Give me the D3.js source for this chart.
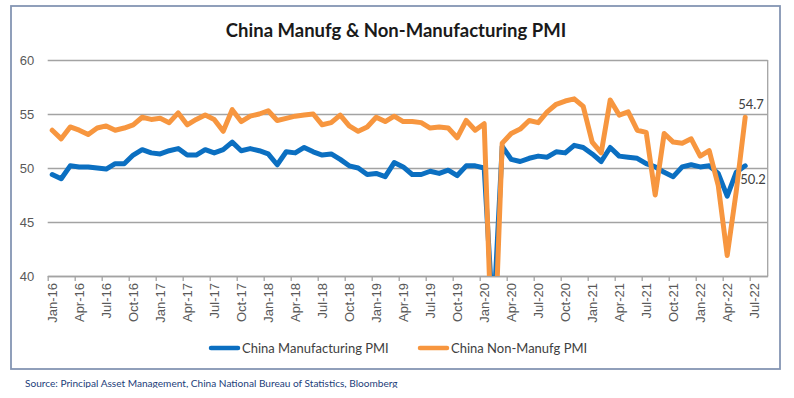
<!DOCTYPE html>
<html>
<head>
<meta charset="utf-8">
<script src="https://cdn.jsdelivr.net/npm/d3@7"></script>
<style>
  body { margin: 0; background: #fff; }
  svg { display: block; font-family: Lato, "Open Sans", sans-serif; }
  .axis text { fill: #595959; font-size: 13px; }
  .axis line, .axis path { stroke: #a3a3a3; stroke-width: 1.3; }
</style>
</head>
<body>
<svg id="chart" width="794" height="398"></svg>
<script>
// months shown on the chart (Jan-16 .. Jun-22)
var months = [
  "Jan-16","Feb-16","Mar-16","Apr-16","May-16","Jun-16","Jul-16","Aug-16","Sep-16","Oct-16","Nov-16","Dec-16",
  "Jan-17","Feb-17","Mar-17","Apr-17","May-17","Jun-17","Jul-17","Aug-17","Sep-17","Oct-17","Nov-17","Dec-17",
  "Jan-18","Feb-18","Mar-18","Apr-18","May-18","Jun-18","Jul-18","Aug-18","Sep-18","Oct-18","Nov-18","Dec-18",
  "Jan-19","Feb-19","Mar-19","Apr-19","May-19","Jun-19","Jul-19","Aug-19","Sep-19","Oct-19","Nov-19","Dec-19",
  "Jan-20","Feb-20","Mar-20","Apr-20","May-20","Jun-20","Jul-20","Aug-20","Sep-20","Oct-20","Nov-20","Dec-20",
  "Jan-21","Feb-21","Mar-21","Apr-21","May-21","Jun-21","Jul-21","Aug-21","Sep-21","Oct-21","Nov-21","Dec-21",
  "Jan-22","Feb-22","Mar-22","Apr-22","May-22","Jun-22"
];

var manufacturing = [
  49.4,49.0,50.2,50.1,50.1,50.0,49.9,50.4,50.4,51.2,51.7,51.4,
  51.3,51.6,51.8,51.2,51.2,51.7,51.4,51.7,52.4,51.6,51.8,51.6,
  51.3,50.3,51.5,51.4,51.9,51.5,51.2,51.3,50.8,50.2,50.0,49.4,
  49.5,49.2,50.5,50.1,49.4,49.4,49.7,49.5,49.8,49.3,50.2,50.2,
  50.0,35.7,52.0,50.8,50.6,50.9,51.1,51.0,51.5,51.4,52.1,51.9,
  51.3,50.6,51.9,51.1,51.0,50.9,50.4,50.1,49.6,49.2,50.1,50.3,
  50.1,50.2,49.5,47.4,49.6,50.2
];

var nonManufacturing = [
  53.5,52.7,53.8,53.5,53.1,53.7,53.9,53.5,53.7,54.0,54.7,54.5,
  54.6,54.2,55.1,54.0,54.5,54.9,54.5,53.4,55.4,54.3,54.8,55.0,
  55.3,54.4,54.6,54.8,54.9,55.0,54.0,54.2,54.9,53.9,53.4,53.8,
  54.7,54.3,54.8,54.3,54.3,54.2,53.7,53.8,53.7,52.8,54.4,53.5,
  54.1,29.6,52.3,53.2,53.6,54.4,54.2,55.2,55.9,56.2,56.4,55.7,
  52.4,51.4,56.3,54.9,55.2,53.5,53.3,47.5,53.2,52.4,52.3,52.7,
  51.1,51.6,48.4,41.9,47.8,54.7
];

var tickLabels = [
  "Jan-16","Apr-16","Jul-16","Oct-16","Jan-17","Apr-17","Jul-17","Oct-17","Jan-18","Apr-18",
  "Jul-18","Oct-18","Jan-19","Apr-19","Jul-19","Oct-19","Jan-20","Apr-20","Jul-20","Oct-20",
  "Jan-21","Apr-21","Jul-21","Oct-21","Jan-22","Apr-22","Jul-22"
];
var yTicks = [40, 45, 50, 55, 60];
var seriesNames = ["China Manufacturing PMI", "China Non-Manufg PMI"];
var title = "China Manufg & Non-Manufacturing PMI";
var source = "Source: Principal Asset Management, China National Bureau of Statistics, Bloomberg";

var blue = "#0b6fc1";
var orange = "#f7963f";

var plotL = 47.7, plotR = 767.7, plotT = 60, plotB = 276;
var nCats = 80; // axis runs to Aug-22

var svg = d3.select("#chart");

// outer frame
svg.append("rect")
  .attr("x", 11).attr("y", 6)
  .attr("width", 769).attr("height", 363)
  .attr("fill", "none")
  .attr("stroke", "#8495b3")
  .attr("stroke-width", 1.8);

svg.append("text")
  .attr("x", 396).attr("y", 37)
  .attr("text-anchor", "middle")
  .style("font-size", "18.5px")
  .style("font-weight", "bold")
  .style("fill", "#1a1a1a")
  .text(title);

var x = d3.scaleLinear().domain([0, nCats]).range([plotL, plotR]);
var y = d3.scaleLinear().domain([40, 60]).range([plotB, plotT]);

// gridlines + y labels
var yAxis = svg.append("g")
  .attr("class", "axis")
  .attr("transform", "translate(" + plotL + ",0)")
  .call(d3.axisLeft(y).tickValues(yTicks).tickSize(-(plotR - plotL)).tickPadding(13).tickFormat(d3.format("d")));
yAxis.select(".domain").remove();
yAxis.selectAll("text").attr("x", -13.5);

// right side vertical line
svg.append("line")
  .attr("x1", plotR).attr("x2", plotR)
  .attr("y1", plotT).attr("y2", plotB)
  .attr("stroke", "#a3a3a3").attr("stroke-width", 1.3);

// x axis
var xAxis = svg.append("g")
  .attr("class", "axis")
  .attr("transform", "translate(0," + plotB + ")")
  .call(d3.axisBottom(x)
    .tickValues(tickLabels.map(function(d, i) { return i * 3; }))
    .tickSize(5)
    .tickSizeOuter(0)
    .tickFormat(function(d, i) { return tickLabels[i]; }));

// labels sit in the middle of their month
xAxis.selectAll("text")
  .attr("transform", "rotate(-90)")
  .attr("text-anchor", "end")
  .attr("x", -7)
  .attr("y", (x(1) - x(0)) / 2)
  .attr("dy", "0.35em");

svg.append("clipPath").attr("id", "plotclip")
  .append("rect")
  .attr("x", plotL).attr("y", plotT - 10)
  .attr("width", plotR - plotL).attr("height", plotB - plotT + 10);

var line = d3.line()
  .x(function(d, i) { return x(i + 0.5); })
  .y(function(d) { return y(d); });

var plot = svg.append("g").attr("clip-path", "url(#plotclip)");

plot.append("path")
  .datum(manufacturing)
  .attr("d", line)
  .attr("fill", "none")
  .attr("stroke", blue)
  .attr("stroke-width", 5)
  .attr("stroke-linejoin", "round")
  .attr("stroke-linecap", "round");

plot.append("path")
  .datum(nonManufacturing)
  .attr("d", line)
  .attr("fill", "none")
  .attr("stroke", orange)
  .attr("stroke-width", 5)
  .attr("stroke-linejoin", "round")
  .attr("stroke-linecap", "round");

// last value labels
var last = months.length - 1;
svg.append("text")
  .attr("x", x(last + 0.5) - 7).attr("y", y(nonManufacturing[last]) - 8)
  .style("font-size", "13px").style("fill", "#404040")
  .text(nonManufacturing[last].toFixed(1));
svg.append("text")
  .attr("x", x(last + 0.5) - 5).attr("y", y(manufacturing[last]) + 18)
  .style("font-size", "13px").style("fill", "#404040")
  .text(manufacturing[last].toFixed(1));

// legend
var legend = [
  { name: seriesNames[0], color: blue, x: 209 },
  { name: seriesNames[1], color: orange, x: 418 }
];
legend.forEach(function(l) {
  svg.append("line")
    .attr("x1", l.x + 2).attr("x2", l.x + 29)
    .attr("y1", 348).attr("y2", 348)
    .attr("stroke", l.color).attr("stroke-width", 4.5)
    .attr("stroke-linecap", "round");
  svg.append("text")
    .attr("x", l.x + 33).attr("y", 353)
    .style("font-size", "13px").style("fill", "#404040")
    .text(l.name);
});

// source note, bottom edge cut off like the original
svg.append("clipPath").attr("id", "srcclip")
  .append("rect").attr("x", 0).attr("y", 370).attr("width", 794).attr("height", 18);
svg.append("text")
  .attr("x", 25).attr("y", 387)
  .attr("clip-path", "url(#srcclip)")
  .style("font-size", "10.1px")
  .style("fill", "#23407a")
  .text(source);
</script>
</body>
</html>
